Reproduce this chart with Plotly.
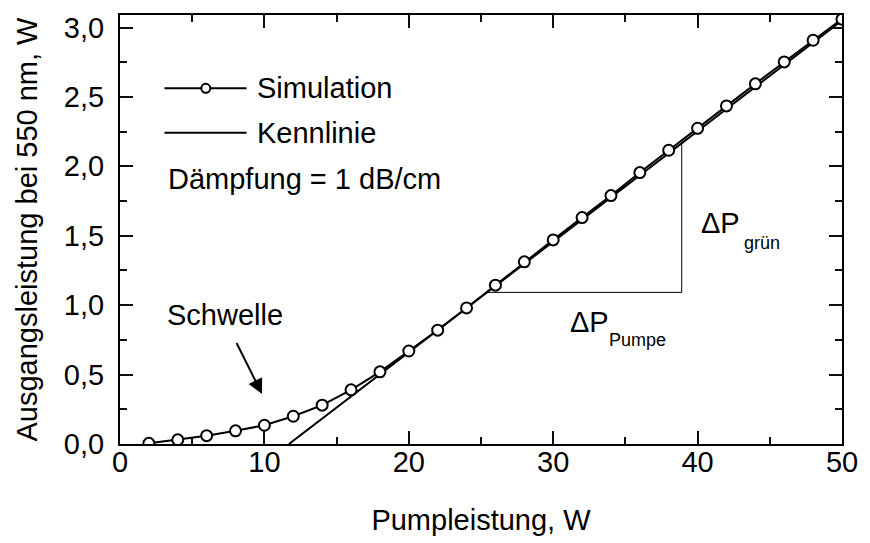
import plotly.graph_objects as go

# ---- data ----
pump_w = [2, 4, 6, 8, 10, 12, 14, 16, 18, 20, 22, 24, 26, 28, 30, 32, 34, 36, 38, 40, 42, 44, 46, 48, 50]
sim_w = [0.005, 0.03, 0.06, 0.095, 0.135, 0.20, 0.28, 0.39, 0.52, 0.67, 0.82, 0.98, 1.144,
         1.312, 1.47, 1.631, 1.789, 1.955, 2.116, 2.274, 2.435, 2.594, 2.752, 2.908, 3.06]
kenn_x = [11.7, 50]
kenn_y = [0.0, 3.05]
tri_x = [25.4, 38.9, 38.9]
tri_y = [1.092, 1.092, 2.168]
x_ticks = [0, 10, 20, 30, 40, 50]
y_ticks = [0.0, 0.5, 1.0, 1.5, 2.0, 2.5, 3.0]

FONT = "Liberation Sans, Arial, sans-serif"
FS = 29
TICKC = "rgb(12,12,12)"

fig = go.Figure()
fig.add_trace(go.Scatter(x=kenn_x, y=kenn_y, mode="lines",
                         line=dict(color="black", width=2), name="Kennlinie", showlegend=False))
fig.add_trace(go.Scatter(x=tri_x, y=tri_y, mode="lines",
                         line=dict(color="black", width=1), showlegend=False, hoverinfo="skip"))
fig.add_trace(go.Scatter(x=pump_w, y=sim_w, mode="lines+markers",
                         line=dict(color="black", width=2),
                         marker=dict(symbol="circle", size=11, color="white",
                                     line=dict(color="black", width=2)),
                         name="Simulation", showlegend=False))

fig.update_layout(
    xaxis=dict(range=[0, 50], tickmode="array", tickvals=x_ticks, ticklabelstandoff=-9,
               showline=True, linecolor="black", linewidth=2, mirror="allticks",
               ticks="inside", ticklen=13, tickwidth=2, tickcolor=TICKC,
               showgrid=False, zeroline=False,
               tickfont=dict(family=FONT, size=FS, color="black"),
               minor=dict(dtick=5, ticks="inside", ticklen=7, tickwidth=2, tickcolor=TICKC),
               title=dict(text="Pumpleistung, W", font=dict(family=FONT, size=FS, color="black"), standoff=33)),
    yaxis=dict(range=[0, 3.09], tickmode="array", tickvals=y_ticks, tickformat=".1f",
               ticklabelstandoff=8,
               showline=True, linecolor="black", linewidth=2, mirror="allticks",
               ticks="inside", ticklen=13, tickwidth=2, tickcolor=TICKC,
               showgrid=False, zeroline=False,
               tickfont=dict(family=FONT, size=FS, color="black"),
               minor=dict(dtick=0.25, ticks="inside", ticklen=7, tickwidth=2, tickcolor=TICKC),
               title=dict(text="Ausgangsleistung bei 550 nm, W", font=dict(family=FONT, size=FS, color="black"), standoff=18)),
)

# ---- manual legend ----
leg_x0, leg_x1 = 0.0616, 0.1753
y_sim, y_ken = 0.829, 0.7254
fig.add_shape(type="line", xref="paper", yref="paper", x0=leg_x0, x1=leg_x1, y0=y_sim, y1=y_sim,
              line=dict(color="black", width=2))
fig.add_shape(type="circle", xref="paper", yref="paper", xsizemode="pixel", ysizemode="pixel",
              xanchor=0.1188, yanchor=y_sim, x0=-4.5, x1=4.5, y0=-4.5, y1=4.5,
              fillcolor="white", line=dict(color="black", width=2))
fig.add_shape(type="line", xref="paper", yref="paper", x0=leg_x0, x1=leg_x1, y0=y_ken, y1=y_ken,
              line=dict(color="black", width=2))

def txt(text, x, y, size=FS, xref="paper", yref="paper", xanchor="left"):
    fig.add_annotation(text=text, x=x, y=y, xref=xref, yref=yref, showarrow=False,
                       xanchor=xanchor, yanchor="middle",
                       font=dict(family=FONT, size=size, color="black"))

txt("Simulation", 0.1873, y_sim)
txt("Kennlinie", 0.1873, y_ken)
txt("Dämpfung = 1 dB/cm", 0.0637, 0.618)

# slope labels
txt("ΔP", 40.07, 1.595, xref="x", yref="y")
txt("grün", 43.1, 1.45, size=18, xref="x", yref="y")
txt("ΔP", 31.0, 0.88, xref="x", yref="y")
txt("Pumpe", 33.75, 0.75, size=18, xref="x", yref="y")

# threshold
txt("Schwelle", 7.29, 0.93, xref="x", yref="y", xanchor="center")
fig.add_annotation(x=9.84, y=0.36, ax=8.02, ay=0.738, xref="x", yref="y", axref="x", ayref="y",
                   text="", showarrow=True, arrowhead=2, arrowsize=1.5, arrowwidth=2, arrowcolor="black")

fig.update_layout(width=870, height=543, margin=dict(l=120, r=20, t=12, b=94),
                  plot_bgcolor="white", paper_bgcolor="white", separators=",.",
                  font=dict(family=FONT, size=FS, color="black"), showlegend=False)

fig.write_html("out.html")
